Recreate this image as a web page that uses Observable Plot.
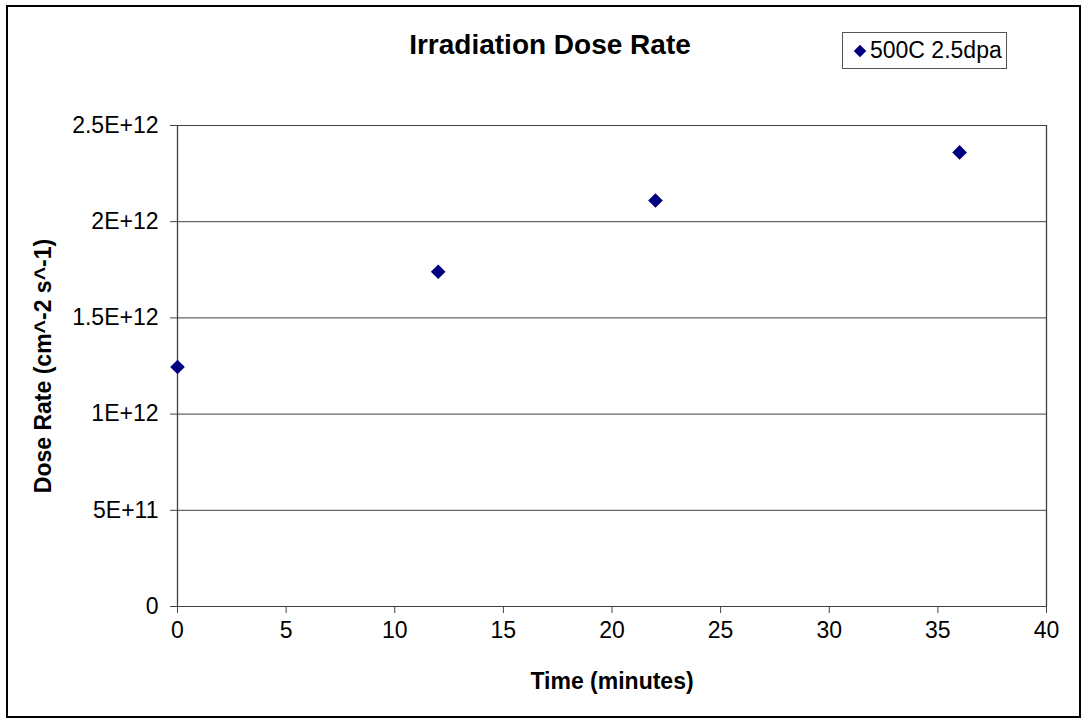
<!DOCTYPE html>
<html>
<head>
<meta charset="utf-8">
<script src="https://cdn.jsdelivr.net/npm/d3@7"></script>
<script src="https://cdn.jsdelivr.net/npm/@observablehq/plot@0.6"></script>
<style>
  html, body { margin: 0; padding: 0; background: #fff; }
  #wrap { position: relative; width: 1084px; height: 720px; font-family: "Liberation Sans", Arial, sans-serif; }
  #frame { position: absolute; left: 6px; top: 5px; width: 1071px; height: 709px; border: 2px solid #000; pointer-events: none; }
  #title { position: absolute; left: 350px; width: 400px; top: 29px; text-align: center; font-weight: bold; font-size: 28px; color: #000; }
  #legend { position: absolute; left: 842px; top: 32px; width: 163px; height: 35px; border: 1px solid #555; background: #fff; font-size: 23px; color: #000; display: flex; align-items: center; }
  #legend svg { margin-left: 10px; margin-right: 3px; }
</style>
</head>
<body>
<div id="wrap">
  <div id="chart"></div>
  <div id="title">Irradiation Dose Rate</div>
  <div id="legend"></div>
  <div id="frame"></div>
</div>
<script>
// Data
const seriesName = "500C 2.5dpa";
const timeMinutes = [0, 12, 22, 36];
const doseRate = [1.245e12, 1.74e12, 2.11e12, 2.36e12];
const xTicks = [0, 5, 10, 15, 20, 25, 30, 35, 40];
const yTicks = [0, 5e11, 1e12, 1.5e12, 2e12, 2.5e12];
const yTickLabels = ["0", "5E+11", "1E+12", "1.5E+12", "2E+12", "2.5E+12"];
const xLabel = "Time (minutes)";
const yLabel = "Dose Rate (cm^-2 s^-1)";

const points = timeMinutes.map((t, i) => ({t, v: doseRate[i]}));
const lineColor = "#404040";
const markColor = "#000080";

const chart = Plot.plot({
  width: 1084,
  height: 720,
  marginLeft: 177,
  marginRight: 38,
  marginTop: 125,
  marginBottom: 114,
  style: {fontFamily: "Liberation Sans, Arial, sans-serif", fontSize: "23px", color: "#000", background: "transparent"},
  x: {domain: [0, 40], ticks: xTicks, tickFormat: d => String(d), label: null},
  y: {domain: [0, 2.5e12], ticks: yTicks, tickFormat: d => yTickLabels[yTicks.indexOf(d)], label: null},
  marks: [
    Plot.ruleY(yTicks, {stroke: lineColor, strokeWidth: 1, strokeOpacity: 1}),
    Plot.ruleX([0, 40], {y1: 0, y2: 2.5e12, stroke: lineColor, strokeWidth: 1.3}),
    Plot.axisX({ticks: xTicks, tickFormat: d => String(d), tickSize: 7, tickPadding: 8, stroke: lineColor, strokeOpacity: 1, fontSize: 23, label: xLabel, labelAnchor: "center", labelArrow: "none", labelOffset: 82}),
    Plot.axisY({ticks: yTicks, tickFormat: d => yTickLabels[yTicks.indexOf(d)], tickSize: 7, tickPadding: 12, stroke: lineColor, strokeOpacity: 1, fontSize: 23, label: yLabel, labelAnchor: "center", labelArrow: "none", labelOffset: 143}),
    Plot.dot(points, {x: "t", y: "v", symbol: "diamond2", r: 6.6, fill: markColor, stroke: "none"})
  ]
});
document.getElementById("chart").appendChild(chart);
// bold axis labels
chart.querySelectorAll("g[aria-label='x-axis label'] text, g[aria-label='y-axis label'] text").forEach(t => {
  t.setAttribute("font-weight", "bold");
  t.setAttribute("font-size", "23");
});

// Legend
const leg = document.getElementById("legend");
const sym = d3.create("svg").attr("width", 14).attr("height", 14);
sym.append("path").attr("d", d3.symbol(d3.symbolDiamond2, 100)()).attr("transform", "translate(7,7)").attr("fill", markColor);
leg.appendChild(sym.node());
const span = document.createElement("span");
span.textContent = seriesName;
leg.appendChild(span);
</script>
</body>
</html>
